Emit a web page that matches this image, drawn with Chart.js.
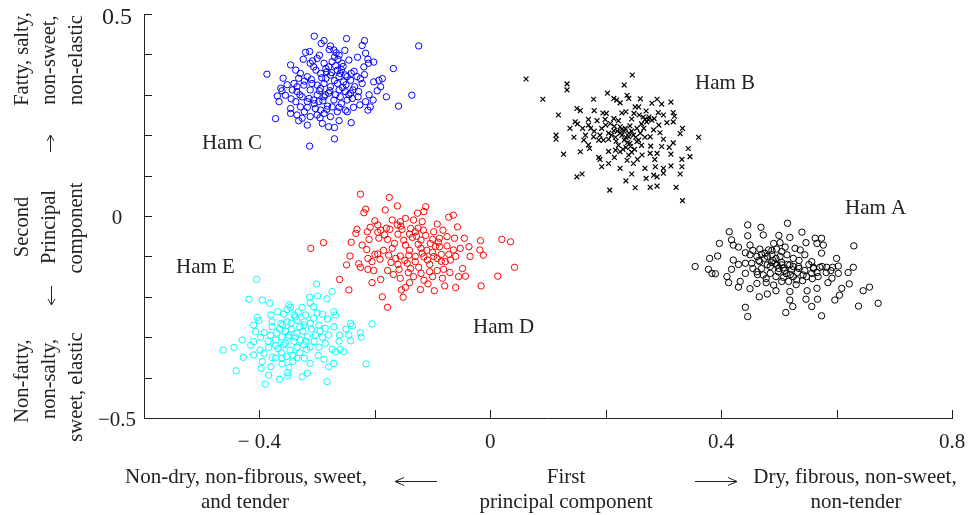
<!DOCTYPE html>
<html>
<head>
<meta charset="utf-8">
<script src="https://cdn.jsdelivr.net/npm/chart.js@4.4.1/dist/chart.umd.min.js"></script>
<style>
  html, body { margin: 0; padding: 0; background: #fff; }
  #mycanvas { display: block; }
</style>
</head>
<body>
<canvas id="mycanvas" width="969" height="515"></canvas>
<script>
// first / second principal component scores per ham
var hamNames = ['Ham A', 'Ham B', 'Ham C', 'Ham D', 'Ham E'];

var hamA = [[0.355,-0.125],[0.515,-0.018],[0.446,-0.022],[0.469,-0.028],[0.414,-0.039],[0.446,-0.049],[0.473,-0.047],[0.397,-0.068],[0.418,-0.059],[0.421,-0.072],[0.430,-0.077],[0.450,-0.072],[0.491,-0.068],[0.502,-0.066],[0.519,-0.053],[0.547,-0.066],[0.563,-0.055],[0.574,-0.055],[0.566,-0.068],[0.577,-0.072],[0.630,-0.074],[0.467,-0.082],[0.482,-0.084],[0.496,-0.082],[0.511,-0.077],[0.528,-0.080],[0.537,-0.084],[0.380,-0.105],[0.394,-0.099],[0.421,-0.109],[0.442,-0.091],[0.450,-0.096],[0.462,-0.100],[0.476,-0.092],[0.488,-0.096],[0.502,-0.100],[0.514,-0.096],[0.525,-0.105],[0.545,-0.096],[0.574,-0.092],[0.557,-0.113],[0.600,-0.105],[0.442,-0.117],[0.453,-0.117],[0.467,-0.113],[0.480,-0.121],[0.493,-0.117],[0.505,-0.121],[0.519,-0.121],[0.534,-0.125],[0.560,-0.127],[0.571,-0.127],[0.583,-0.127],[0.593,-0.127],[0.603,-0.124],[0.629,-0.127],[0.378,-0.132],[0.384,-0.142],[0.390,-0.143],[0.418,-0.132],[0.442,-0.142],[0.462,-0.138],[0.473,-0.146],[0.485,-0.142],[0.499,-0.138],[0.513,-0.143],[0.525,-0.150],[0.542,-0.146],[0.557,-0.142],[0.566,-0.140],[0.592,-0.154],[0.603,-0.142],[0.413,-0.165],[0.433,-0.162],[0.430,-0.176],[0.462,-0.167],[0.478,-0.165],[0.491,-0.171],[0.505,-0.162],[0.517,-0.162],[0.531,-0.158],[0.541,-0.160],[0.566,-0.179],[0.609,-0.179],[0.622,-0.168],[0.466,-0.200],[0.480,-0.193],[0.519,-0.187],[0.549,-0.185],[0.605,-0.196],[0.646,-0.185],[0.657,-0.176],[0.597,-0.208],[0.547,-0.206],[0.567,-0.206],[0.519,-0.208],[0.524,-0.224],[0.557,-0.224],[0.638,-0.223],[0.672,-0.216],[0.442,-0.226],[0.446,-0.249],[0.512,-0.239],[0.574,-0.247],[0.470,-0.095],[0.480,-0.100],[0.490,-0.110],[0.495,-0.105],[0.505,-0.115],[0.515,-0.120],[0.525,-0.125],[0.535,-0.130],[0.545,-0.135],[0.560,-0.130],[0.575,-0.125],[0.465,-0.110],[0.485,-0.125],[0.500,-0.130],[0.510,-0.135],[0.470,-0.130],[0.520,-0.145],[0.455,-0.085],[0.475,-0.105],[0.487,-0.115],[0.497,-0.122],[0.508,-0.128],[0.522,-0.132],[0.532,-0.140],[0.548,-0.150],[0.558,-0.155],[0.568,-0.150],[0.582,-0.140],[0.590,-0.135],[0.455,-0.130],[0.463,-0.145],[0.478,-0.155],[0.495,-0.150],[0.508,-0.152],[0.530,-0.170],[0.488,-0.085],[0.505,-0.088],[0.535,-0.110],[0.552,-0.120],[0.430,-0.120],[0.410,-0.150],[0.450,-0.180],[0.495,-0.185],[0.585,-0.165],[0.620,-0.140],[0.540,-0.040],[0.500,-0.048]];

var hamB = [[0.062,0.339],[0.246,0.349],[0.133,0.327],[0.133,0.312],[0.232,0.324],[0.091,0.289],[0.179,0.289],[0.203,0.304],[0.214,0.291],[0.219,0.287],[0.237,0.299],[0.240,0.291],[0.289,0.289],[0.280,0.279],[0.297,0.277],[0.313,0.282],[0.150,0.266],[0.156,0.261],[0.180,0.261],[0.118,0.250],[0.201,0.254],[0.235,0.258],[0.251,0.270],[0.257,0.270],[0.249,0.254],[0.258,0.250],[0.291,0.256],[0.317,0.256],[0.319,0.247],[0.268,0.239],[0.274,0.239],[0.280,0.237],[0.284,0.241],[0.271,0.233],[0.170,0.239],[0.185,0.236],[0.199,0.239],[0.214,0.241],[0.222,0.236],[0.306,0.231],[0.317,0.233],[0.147,0.233],[0.151,0.228],[0.160,0.217],[0.138,0.217],[0.174,0.217],[0.193,0.217],[0.208,0.229],[0.214,0.211],[0.225,0.221],[0.234,0.217],[0.242,0.223],[0.254,0.217],[0.266,0.217],[0.283,0.213],[0.333,0.217],[0.114,0.200],[0.114,0.190],[0.145,0.195],[0.162,0.188],[0.179,0.196],[0.188,0.188],[0.196,0.188],[0.205,0.190],[0.217,0.195],[0.228,0.200],[0.232,0.188],[0.240,0.196],[0.248,0.200],[0.257,0.188],[0.277,0.196],[0.294,0.206],[0.329,0.204],[0.361,0.195],[0.170,0.176],[0.172,0.167],[0.156,0.159],[0.127,0.153],[0.217,0.163],[0.225,0.159],[0.235,0.170],[0.242,0.180],[0.254,0.184],[0.263,0.151],[0.277,0.155],[0.289,0.155],[0.297,0.172],[0.278,0.173],[0.317,0.181],[0.343,0.167],[0.346,0.147],[0.313,0.153],[0.188,0.145],[0.190,0.140],[0.205,0.130],[0.193,0.122],[0.240,0.151],[0.237,0.138],[0.248,0.130],[0.225,0.118],[0.268,0.118],[0.286,0.122],[0.300,0.118],[0.313,0.124],[0.332,0.140],[0.332,0.122],[0.329,0.104],[0.300,0.106],[0.289,0.097],[0.283,0.101],[0.270,0.093],[0.235,0.087],[0.245,0.104],[0.150,0.097],[0.159,0.104],[0.207,0.064],[0.251,0.070],[0.277,0.071],[0.289,0.074],[0.322,0.071],[0.333,0.038],[0.220,0.210],[0.225,0.205],[0.228,0.215],[0.235,0.195],[0.240,0.205],[0.232,0.210],[0.245,0.210],[0.238,0.182],[0.215,0.222],[0.265,0.245],[0.275,0.245],[0.250,0.165],[0.245,0.158],[0.210,0.200],[0.218,0.185],[0.222,0.175],[0.230,0.165],[0.243,0.172],[0.252,0.195],[0.260,0.205],[0.268,0.195],[0.262,0.175],[0.205,0.205],[0.200,0.225],[0.190,0.200],[0.180,0.210],[0.170,0.225],[0.165,0.200],[0.262,0.228],[0.292,0.225],[0.300,0.190],[0.310,0.170],[0.285,0.140],[0.255,0.140],[0.215,0.145],[0.205,0.160],[0.245,0.240],[0.228,0.255],[0.195,0.255],[0.270,0.260],[0.300,0.250],[0.225,0.280],[0.260,0.290]];

var hamC = [[-0.305,0.445],[-0.249,0.439],[-0.218,0.434],[-0.124,0.421],[-0.288,0.434],[-0.293,0.427],[-0.277,0.421],[-0.279,0.412],[-0.271,0.411],[-0.267,0.404],[-0.222,0.422],[-0.216,0.403],[-0.320,0.405],[-0.313,0.407],[-0.324,0.388],[-0.308,0.384],[-0.312,0.378],[-0.270,0.393],[-0.264,0.388],[-0.245,0.386],[-0.230,0.393],[-0.212,0.388],[-0.202,0.381],[-0.346,0.374],[-0.387,0.351],[-0.359,0.341],[-0.168,0.365],[-0.306,0.369],[-0.302,0.361],[-0.283,0.357],[-0.265,0.361],[-0.260,0.353],[-0.251,0.349],[-0.241,0.353],[-0.231,0.345],[-0.222,0.328],[-0.329,0.353],[-0.317,0.345],[-0.294,0.353],[-0.277,0.349],[-0.340,0.328],[-0.335,0.320],[-0.323,0.324],[-0.309,0.328],[-0.300,0.324],[-0.288,0.328],[-0.277,0.320],[-0.265,0.328],[-0.254,0.332],[-0.242,0.336],[-0.235,0.320],[-0.228,0.308],[-0.202,0.332],[-0.193,0.336],[-0.187,0.340],[-0.196,0.310],[-0.180,0.295],[-0.136,0.299],[-0.363,0.316],[-0.361,0.310],[-0.369,0.297],[-0.366,0.283],[-0.355,0.299],[-0.343,0.312],[-0.335,0.308],[-0.326,0.295],[-0.314,0.291],[-0.306,0.287],[-0.297,0.283],[-0.288,0.295],[-0.280,0.304],[-0.271,0.287],[-0.260,0.295],[-0.248,0.287],[-0.239,0.291],[-0.229,0.295],[-0.216,0.283],[-0.208,0.270],[-0.212,0.262],[-0.203,0.287],[-0.159,0.272],[-0.346,0.266],[-0.337,0.283],[-0.329,0.270],[-0.317,0.269],[-0.303,0.266],[-0.294,0.262],[-0.283,0.264],[-0.274,0.270],[-0.262,0.269],[-0.251,0.262],[-0.237,0.269],[-0.346,0.254],[-0.335,0.250],[-0.326,0.242],[-0.312,0.246],[-0.300,0.250],[-0.288,0.254],[-0.277,0.246],[-0.265,0.258],[-0.248,0.258],[-0.372,0.241],[-0.332,0.236],[-0.317,0.225],[-0.291,0.229],[-0.280,0.221],[-0.270,0.219],[-0.241,0.231],[-0.270,0.191],[-0.313,0.173],[-0.219,0.369],[-0.211,0.378],[-0.300,0.390],[-0.288,0.378],[-0.280,0.369],[-0.274,0.382],[-0.257,0.378],[-0.337,0.361],[-0.332,0.341],[-0.312,0.312],[-0.262,0.312],[-0.251,0.308],[-0.242,0.304],[-0.317,0.283],[-0.294,0.316],[-0.285,0.340],[-0.270,0.335],[-0.262,0.345],[-0.250,0.325],[-0.278,0.310],[-0.300,0.300],[-0.310,0.338],[-0.255,0.370],[-0.245,0.300],[-0.290,0.285],[-0.285,0.365],[-0.275,0.355],[-0.268,0.372],[-0.258,0.362],[-0.292,0.342],[-0.248,0.345],[-0.236,0.358],[-0.225,0.340],[-0.296,0.310],[-0.286,0.300],[-0.268,0.300],[-0.256,0.318],[-0.238,0.312],[-0.322,0.334],[-0.330,0.300],[-0.305,0.278],[-0.282,0.272],[-0.258,0.278],[-0.226,0.275],[-0.345,0.290],[-0.352,0.325],[-0.262,0.398],[-0.252,0.410],[-0.296,0.398],[-0.218,0.350],[-0.210,0.300],[-0.190,0.320],[-0.322,0.258],[-0.295,0.243],[-0.262,0.236]];

var hamD = [[-0.225,0.054],[-0.175,0.046],[-0.161,0.025],[-0.216,0.017],[-0.219,0.008],[-0.182,0.015],[-0.112,0.023],[-0.115,0.011],[-0.126,0.007],[-0.072,-0.003],[-0.064,0.002],[-0.156,-0.014],[-0.147,-0.006],[-0.133,-0.010],[-0.118,-0.014],[-0.231,-0.033],[-0.233,-0.043],[-0.213,-0.039],[-0.208,-0.028],[-0.195,-0.022],[-0.190,-0.035],[-0.183,-0.047],[-0.174,-0.033],[-0.161,-0.022],[-0.153,-0.033],[-0.138,-0.031],[-0.130,-0.039],[-0.116,-0.035],[-0.098,-0.039],[-0.082,-0.035],[-0.057,-0.027],[-0.289,-0.066],[-0.311,-0.080],[-0.241,-0.065],[-0.222,-0.072],[-0.210,-0.058],[-0.214,-0.083],[-0.193,-0.055],[-0.178,-0.058],[-0.166,-0.068],[-0.147,-0.072],[-0.135,-0.053],[-0.120,-0.060],[-0.104,-0.068],[-0.088,-0.055],[-0.075,-0.051],[-0.062,-0.055],[-0.088,-0.076],[-0.075,-0.074],[-0.064,-0.084],[-0.052,-0.080],[-0.037,-0.076],[-0.017,-0.061],[0.020,-0.058],[0.035,-0.064],[-0.018,-0.084],[-0.012,-0.097],[-0.243,-0.099],[-0.205,-0.113],[-0.195,-0.094],[-0.191,-0.107],[-0.176,-0.097],[-0.164,-0.105],[-0.156,-0.099],[-0.141,-0.097],[-0.144,-0.117],[-0.130,-0.113],[-0.115,-0.101],[-0.109,-0.109],[-0.092,-0.105],[-0.078,-0.113],[-0.069,-0.109],[-0.249,-0.121],[-0.225,-0.127],[-0.212,-0.132],[-0.202,-0.135],[-0.178,-0.135],[-0.158,-0.132],[-0.138,-0.130],[-0.124,-0.127],[-0.105,-0.138],[-0.092,-0.135],[-0.081,-0.132],[0.042,-0.127],[-0.261,-0.157],[-0.245,-0.183],[-0.205,-0.165],[-0.190,-0.157],[-0.156,-0.154],[-0.133,-0.150],[-0.115,-0.159],[-0.083,-0.154],[-0.055,-0.150],[-0.043,-0.149],[0.013,-0.149],[-0.147,-0.177],[-0.154,-0.183],[-0.121,-0.182],[-0.097,-0.185],[-0.079,-0.173],[-0.060,-0.177],[-0.016,-0.173],[-0.187,-0.200],[-0.151,-0.201],[-0.178,-0.226],[-0.120,-0.080],[-0.110,-0.085],[-0.100,-0.090],[-0.125,-0.070],[-0.095,-0.075],[-0.140,-0.085],[-0.150,-0.060],[-0.160,-0.045],[-0.170,-0.080],[-0.105,-0.120],[-0.085,-0.095],[-0.130,-0.100],[-0.195,-0.040],[-0.180,-0.030],[-0.140,-0.045],[-0.128,-0.050],[-0.112,-0.048],[-0.100,-0.058],[-0.090,-0.065],[-0.118,-0.092],[-0.098,-0.100],[-0.085,-0.112],[-0.072,-0.095],[-0.060,-0.100],[-0.148,-0.110],[-0.160,-0.120],[-0.172,-0.115],[-0.185,-0.085],[-0.200,-0.095],[-0.212,-0.105],[-0.228,-0.118],[-0.168,-0.145],[-0.142,-0.140],[-0.120,-0.142],[-0.100,-0.150],[-0.070,-0.140],[-0.048,-0.130],[-0.035,-0.100],[-0.045,-0.055],[-0.155,-0.025],[-0.170,-0.010],[-0.200,-0.012],[-0.140,-0.165],[-0.108,-0.168],[-0.125,-0.030],[-0.092,-0.020]];

var hamE = [[-0.405,-0.157],[-0.301,-0.168],[-0.418,-0.206],[-0.395,-0.208],[-0.382,-0.216],[-0.313,-0.201],[-0.299,-0.198],[-0.283,-0.205],[-0.274,-0.187],[-0.349,-0.220],[-0.346,-0.226],[-0.326,-0.226],[-0.306,-0.225],[-0.312,-0.215],[-0.404,-0.251],[-0.401,-0.259],[-0.380,-0.245],[-0.368,-0.237],[-0.358,-0.243],[-0.340,-0.245],[-0.320,-0.245],[-0.306,-0.253],[-0.291,-0.243],[-0.271,-0.237],[-0.268,-0.245],[-0.410,-0.270],[-0.407,-0.286],[-0.392,-0.289],[-0.378,-0.274],[-0.363,-0.266],[-0.352,-0.262],[-0.335,-0.258],[-0.323,-0.270],[-0.312,-0.266],[-0.297,-0.270],[-0.286,-0.278],[-0.271,-0.274],[-0.242,-0.266],[-0.239,-0.272],[-0.205,-0.267],[-0.430,-0.307],[-0.410,-0.311],[-0.398,-0.300],[-0.381,-0.295],[-0.372,-0.307],[-0.361,-0.299],[-0.349,-0.295],[-0.338,-0.300],[-0.329,-0.307],[-0.317,-0.299],[-0.303,-0.295],[-0.291,-0.300],[-0.280,-0.295],[-0.261,-0.295],[-0.245,-0.295],[-0.225,-0.289],[-0.224,-0.300],[-0.242,-0.309],[-0.444,-0.325],[-0.463,-0.332],[-0.399,-0.332],[-0.384,-0.325],[-0.368,-0.328],[-0.358,-0.319],[-0.347,-0.332],[-0.335,-0.325],[-0.323,-0.319],[-0.312,-0.324],[-0.297,-0.325],[-0.286,-0.315],[-0.274,-0.330],[-0.260,-0.330],[-0.268,-0.336],[-0.254,-0.336],[-0.428,-0.350],[-0.410,-0.344],[-0.378,-0.350],[-0.361,-0.352],[-0.353,-0.348],[-0.335,-0.352],[-0.322,-0.352],[-0.312,-0.365],[-0.280,-0.373],[-0.271,-0.365],[-0.215,-0.366],[-0.440,-0.383],[-0.397,-0.377],[-0.380,-0.373],[-0.361,-0.366],[-0.349,-0.375],[-0.351,-0.388],[-0.351,-0.396],[-0.384,-0.394],[-0.326,-0.398],[-0.317,-0.389],[-0.365,-0.404],[-0.390,-0.416],[-0.283,-0.410],[-0.355,-0.285],[-0.345,-0.280],[-0.335,-0.290],[-0.325,-0.285],[-0.350,-0.300],[-0.340,-0.310],[-0.330,-0.275],[-0.360,-0.270],[-0.370,-0.290],[-0.320,-0.310],[-0.345,-0.265],[-0.355,-0.315],[-0.365,-0.280],[-0.378,-0.262],[-0.385,-0.310],[-0.372,-0.320],[-0.362,-0.338],[-0.342,-0.345],[-0.330,-0.338],[-0.318,-0.330],[-0.305,-0.310],[-0.295,-0.285],[-0.310,-0.280],[-0.322,-0.262],[-0.338,-0.250],[-0.352,-0.232],[-0.392,-0.340],[-0.395,-0.360],[-0.298,-0.345],[-0.288,-0.355],[-0.262,-0.310],[-0.250,-0.280],[-0.282,-0.255],[-0.333,-0.238],[-0.372,-0.352],[-0.342,-0.360],[-0.300,-0.240],[-0.415,-0.320]];

var xTicks = [-0.6, -0.4, -0.2, 0, 0.2, 0.4, 0.6, 0.8];
var xTickLabels = ['', '\u2212 0.4', '', '0', '', '0.4', '', '0.8'];
var yTicks = [-0.5, -0.4, -0.3, -0.2, -0.1, 0, 0.1, 0.2, 0.3, 0.4, 0.5];
var yTickLabels = ['\u22120.5', '', '', '', '', '0', '', '', '', '', '0.5'];

function toXY(arr) {
  return arr.map(function (p) { return { x: p[0], y: p[1] }; });
}

var serif = '"Liberation Serif", "Times New Roman", serif';

function vText(ctx, str, x, y) {
  ctx.save();
  ctx.translate(x, y);
  ctx.rotate(-Math.PI / 2);
  ctx.fillText(str, 0, 0);
  ctx.restore();
}

// horizontal arrow, dir -1 points left, 1 points right
function arrow(ctx, x1, x2, y, dir) {
  ctx.beginPath();
  ctx.moveTo(x1, y);
  ctx.lineTo(x2, y);
  var tip = dir < 0 ? x1 : x2;
  ctx.moveTo(tip - dir * 9, y - 4);
  ctx.lineTo(tip, y);
  ctx.lineTo(tip - dir * 9, y + 4);
  ctx.stroke();
}

// vertical arrow, dir -1 points up, 1 points down
function vArrow(ctx, x, y1, y2, dir) {
  ctx.beginPath();
  ctx.moveTo(x, y1);
  ctx.lineTo(x, y2);
  var tip = dir < 0 ? y1 : y2;
  ctx.moveTo(x - 3.5, tip - dir * 6);
  ctx.lineTo(x, tip);
  ctx.lineTo(x + 3.5, tip - dir * 6);
  ctx.stroke();
}

var frame = {
  id: 'frame',
  afterDraw: function (chart) {
    var ctx = chart.ctx;
    var xs = chart.scales.x, ys = chart.scales.y;
    var left = chart.chartArea.left, bottom = chart.chartArea.bottom;
    ctx.save();
    ctx.strokeStyle = '#222';
    ctx.fillStyle = '#222';
    ctx.lineWidth = 1;

    // inward ticks
    ctx.beginPath();
    xTicks.forEach(function (v) {
      var px = Math.round(xs.getPixelForValue(v)) + 0.5;
      ctx.moveTo(px, bottom);
      ctx.lineTo(px, bottom - 8);
    });
    yTicks.forEach(function (v) {
      var py = Math.round(ys.getPixelForValue(v)) + 0.5;
      ctx.moveTo(left, py);
      ctx.lineTo(left + 8, py);
    });
    ctx.stroke();

    // tick labels
    ctx.textAlign = 'center';
    ctx.textBaseline = 'alphabetic';
    ctx.font = '21px ' + serif;
    xTicks.forEach(function (v, i) {
      if (xTickLabels[i]) ctx.fillText(xTickLabels[i], xs.getPixelForValue(v), 448);
    });
    yTicks.forEach(function (v, i) {
      if (!yTickLabels[i]) return;
      ctx.font = (v > 0 ? '24px ' : '21px ') + serif;
      ctx.fillText(yTickLabels[i], 117, ys.getPixelForValue(v) + (v > 0 ? 10 : 8));
    });

    // ham labels
    ctx.textAlign = 'left';
    ctx.font = '21px ' + serif;
    ctx.fillText(hamNames[0], 845, 214);
    ctx.fillText(hamNames[1], 695, 89);
    ctx.fillText(hamNames[2], 202, 149);
    ctx.fillText(hamNames[3], 473, 333);
    ctx.fillText(hamNames[4], 176, 273);

    // x axis title
    ctx.textAlign = 'center';
    ctx.font = '21px ' + serif;
    ctx.fillText('Non-dry, non-fibrous, sweet,', 246, 483);
    ctx.fillText('and tender', 245, 508);
    ctx.fillText('First', 566, 483);
    ctx.fillText('principal component', 566, 508);
    ctx.fillText('Dry, fibrous, non-sweet,', 855, 483);
    ctx.fillText('non-tender', 856, 508);
    arrow(ctx, 395, 437, 481.5, -1);
    arrow(ctx, 695, 737, 481.5, 1);

    // y axis title, three rotated columns
    ctx.font = '20.5px ' + serif;
    vText(ctx, 'Fatty, salty,', 28, 59);
    vText(ctx, 'non-sweet,', 55, 60);
    vText(ctx, 'non-elastic', 82, 60);
    vArrow(ctx, 50.5, 135, 152, -1);
    vText(ctx, 'Second', 28, 227);
    vText(ctx, 'Principal', 55, 227);
    vText(ctx, 'component', 82, 228);
    vArrow(ctx, 51.5, 286, 305, 1);
    vText(ctx, 'Non-fatty,', 28, 381);
    vText(ctx, 'non-salty,', 55, 379);
    vText(ctx, 'sweet, elastic', 82, 387);
    ctx.restore();
  }
};

var ctx = document.getElementById('mycanvas');

var chartdata = {
  datasets: [
    { label: hamNames[4], data: toXY(hamE), borderColor: '#00ffff' },
    { label: hamNames[3], data: toXY(hamD), borderColor: '#ff0000' },
    { label: hamNames[2], data: toXY(hamC), borderColor: '#0000ff' },
    { label: hamNames[0], data: toXY(hamA), borderColor: '#000000' },
    { label: hamNames[1], data: toXY(hamB), borderColor: '#000000', pointStyle: 'crossRot', pointRadius: 3.4, borderWidth: 1.2 }
  ]
};

var scatter = new Chart(ctx, {
  type: 'scatter',
  data: chartdata,
  options: {
    responsive: false,
    animation: false,
    layout: { padding: { top: 14, right: 17, left: 0, bottom: 0 } },
    elements: {
      point: { pointStyle: 'circle', radius: 3.2, borderWidth: 1, backgroundColor: 'rgba(0,0,0,0)' }
    },
    plugins: { legend: { display: false }, tooltip: { enabled: false } },
    scales: {
      x: {
        type: 'linear', min: -0.6, max: 0.8,
        ticks: { display: false },
        grid: { display: false, drawTicks: false },
        border: { color: '#222', width: 1 },
        afterFit: function (s) { s.height = 97; }
      },
      y: {
        type: 'linear', min: -0.5, max: 0.5,
        ticks: { display: false },
        grid: { display: false, drawTicks: false },
        border: { color: '#222', width: 1 },
        afterFit: function (s) { s.width = 144; }
      }
    }
  },
  plugins: [frame]
});
</script>
</body>
</html>
